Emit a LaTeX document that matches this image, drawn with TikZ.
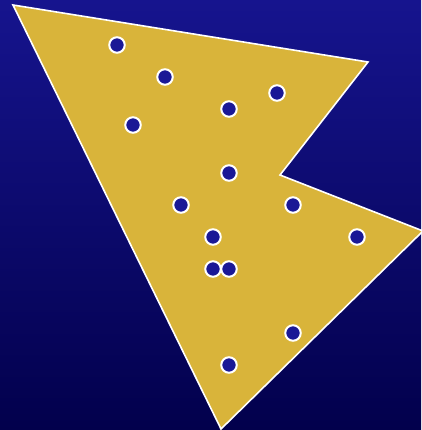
\documentclass[tikz,border=0pt]{standalone}
\usepackage{tikz}
\usetikzlibrary{calc}
\definecolor{skytop}{RGB}{22,20,142}
\definecolor{skybot}{RGB}{2,0,76}
\definecolor{regiongold}{RGB}{217,180,58}
\definecolor{ptblue}{RGB}{26,24,150}
\tikzset{
  regionfill/.style={fill=regiongold, draw=white, line width=1.6pt, line join=miter},
  ptdot/.style={circle, fill=ptblue, draw=white, line width=2pt, minimum size=15.5pt, inner sep=0pt}
}

\begin{document}
\begin{tikzpicture}[x=1pt, y=-1pt]
  \shade[top color=skytop, bottom color=skybot] (0,0) rectangle (421,430);
  \useasboundingbox (0,0) rectangle (421,430);
  \draw[regionfill] (13,5) -- (368,62) -- (280,175) -- (423,231) -- (221,429) -- cycle;
  \node[ptdot] (p1) at (117,45) {};
  \node[ptdot] (p2) at (165,77) {};
  \node[ptdot] (p3) at (277,93) {};
  \node[ptdot] (p4) at (229,109) {};
  \node[ptdot] (p5) at (133,125) {};
  \node[ptdot] (p6) at (229,173) {};
  \node[ptdot] (p7) at (181,205) {};
  \node[ptdot] (p8) at (293,205) {};
  \node[ptdot] (p9) at (213,237) {};
  \node[ptdot] (p10) at (357,237) {};
  \node[ptdot] (p11) at (213,269) {};
  \node[ptdot] (p12) at (229,269) {};
  \node[ptdot] (p13) at (293,333) {};
  \node[ptdot] (p14) at (229,365) {};
\end{tikzpicture}
\end{document}
